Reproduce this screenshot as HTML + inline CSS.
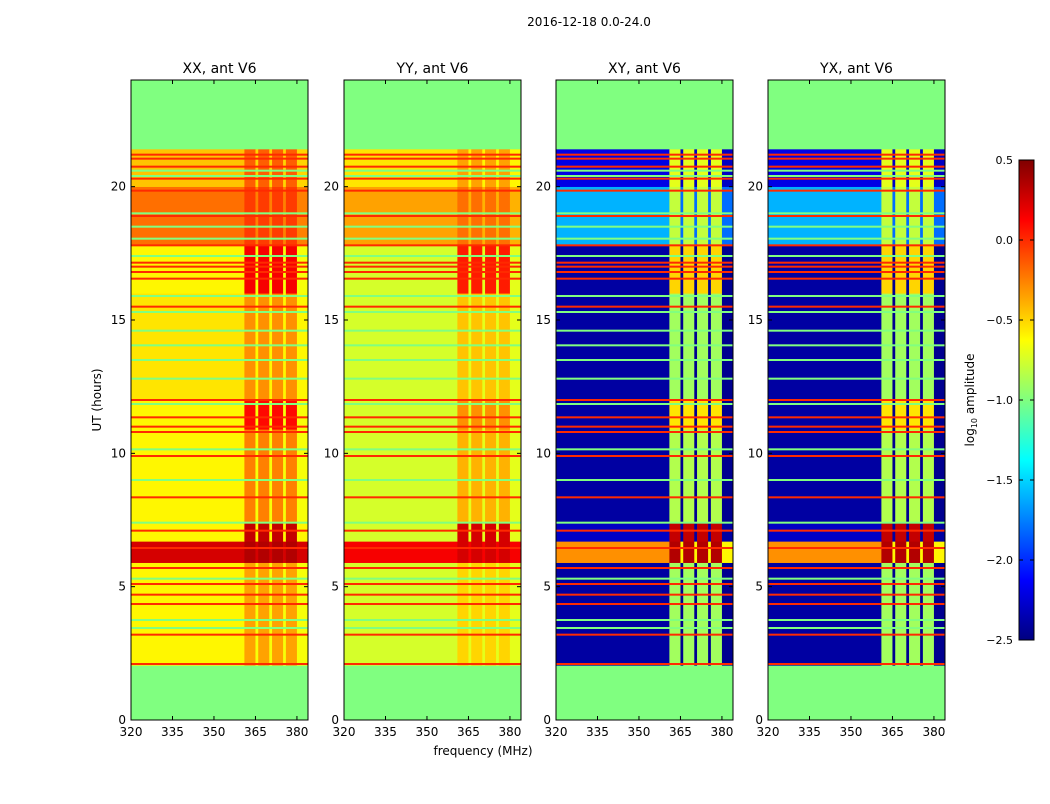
<!DOCTYPE html>
<html><head><meta charset="utf-8"><style>
body{margin:0;background:#fff;width:1050px;height:800px;overflow:hidden;font-family:"DejaVu Sans","Liberation Sans",sans-serif}
svg text{font-family:"DejaVu Sans","Liberation Sans",sans-serif}
</style></head><body>
<svg id="fig" width="1050" height="800" xmlns="http://www.w3.org/2000/svg">
<rect width="1050" height="800" fill="#fff"/>
<text x="589" y="26" font-size="12" text-anchor="middle">2016-12-18 0.0-24.0</text>
<text x="483" y="755" font-size="12" text-anchor="middle">frequency (MHz)</text>
<text x="0" y="0" font-size="12" text-anchor="middle" transform="translate(101,400) rotate(-90)">UT (hours)</text>
<text x="0" y="0" font-size="12" text-anchor="middle" transform="translate(974,400) rotate(-90)">log<tspan font-size="8" dy="3">10</tspan><tspan dy="-3"> amplitude</tspan></text>
</svg>
<script>
// ---- data ----
const panelTitles = ["XX, ant V6","YY, ant V6","XY, ant V6","YX, ant V6"];
const panelLefts = [131,344,556,768];
const xTicks = [320,335,350,365,380];
const yTicks = [0,5,10,15,20];
const cbTicks = [0.5,0.0,-0.5,-1.0,-1.5,-2.0,-2.5];
const cbTickLabels = ["0.5","0.0","\u22120.5","\u22121.0","\u22121.5","\u22122.0","\u22122.5"];
// frequency bands: [start MHz, end MHz, kind] L=left continuum, S=strip, G=gap
const bandStart = [320,361,365,366,370,371,375,376,380];
const bandEnd   = [361,365,366,370,371,375,376,380,384];
const bandKind  = ["L","S","G","S","G","S","G","S","G"];
// time blocks (hours)
const blockStart = [2.05,5.9,6.7,7.4,10.9,12.0,16.0,17.8,20.0];
const blockEnd   = [5.9,6.7,7.4,10.9,12.0,16.0,17.8,20.0,21.4];
// per-panel block values [L,S,G] (log10 amplitude)
const valsXX = [[-0.6,-0.35,-0.65],[0.25,0.35,0.25],[-0.6,0.3,-0.6],[-0.6,-0.25,-0.65],[-0.6,0.1,-0.65],[-0.55,-0.3,-0.6],[-0.6,0.15,-0.65],[-0.2,-0.05,-0.25],[-0.45,-0.15,-0.5]];
const valsYY = [[-0.75,-0.5,-0.7],[0.15,0.25,0.15],[-0.75,0.25,-0.7],[-0.75,-0.4,-0.7],[-0.75,-0.3,-0.7],[-0.75,-0.45,-0.7],[-0.75,0.05,-0.7],[-0.35,-0.2,-0.4],[-0.55,-0.35,-0.6]];
const valsXY = [[-2.4,-0.9,-2.45],[-0.3,0.35,-0.6],[-2.3,0.3,-2.4],[-2.4,-0.85,-2.45],[-2.4,-0.55,-2.45],[-2.4,-0.9,-2.45],[-2.4,-0.5,-2.45],[-1.6,-0.8,-1.8],[-2.2,-0.7,-2.3]];
const valsYX = [[-2.4,-0.9,-2.45],[-0.3,0.35,-0.6],[-2.3,0.3,-2.4],[-2.4,-0.85,-2.45],[-2.4,-0.55,-2.45],[-2.4,-0.9,-2.45],[-2.4,-0.5,-2.45],[-1.6,-0.8,-1.8],[-2.2,-0.7,-2.3]];
const panelVals = [valsXX,valsYY,valsXY,valsYX];
// flagged rows (full width)
const redLines = [2.1,3.2,4.35,4.7,5.1,5.7,6.45,7.1,8.35,9.9,10.8,11.0,11.35,12.0,15.5,16.55,16.8,17.0,17.15,17.8,18.9,19.85,20.3,20.75,21.05,21.2];
const greenLines = [3.45,3.75,5.3,7.4,9.0,10.15,11.85,12.8,13.5,14.05,14.6,15.3,15.9,17.4,18.05,18.5,19.0,20.4,20.6];
const maskValue = -1.0, flagValue = 0.0;
// ---- scales ----
const VMIN=-2.5, VMAX=0.5, PW=177, TOP=80, BOT=720;
const y = t => BOT - (t/24)*(BOT-TOP);
const xs = (left,f) => left + (f-320)/64*PW;
function jet(v){
  let t=(v-VMIN)/(VMAX-VMIN); t=Math.max(0,Math.min(1,t));
  const c=x=>Math.round(255*Math.max(0,Math.min(1,x)));
  return `rgb(${c(1.5-Math.abs(4*t-3))},${c(1.5-Math.abs(4*t-2))},${c(1.5-Math.abs(4*t-1))})`;
}
const NS="http://www.w3.org/2000/svg", svg=document.getElementById("fig");
function el(tag,attrs,parent){const e=document.createElementNS(NS,tag);for(const k in attrs)e.setAttribute(k,attrs[k]);(parent||svg).appendChild(e);return e;}
panelLefts.forEach((L,p)=>{
  const g=el("g",{});
  
  
  const bg=el("rect",{x:L,y:TOP,width:PW,height:BOT-TOP,fill:jet(maskValue)},g);
  
  
  const vals=panelVals[p];
  blockStart.forEach((t0,i)=>{
    bandStart.forEach((f0,j)=>{
      const k=bandKind[j]==="L"?0:bandKind[j]==="S"?1:2;
      const x0=xs(L,f0), x1=xs(L,bandEnd[j]);
      const r=el("rect",{x:x0,y:y(blockEnd[i]),width:x1-x0+0.3,height:y(t0)-y(blockEnd[i])+0.3,fill:jet(vals[i][k])},g);
      
      
    });
  });
  greenLines.forEach(t=>{const r=el("rect",{x:L,y:y(t)-1,width:PW,height:2,fill:jet(maskValue)},g);
    
    });
  redLines.forEach(t=>{const r=el("rect",{x:L,y:y(t)-1,width:PW,height:2,fill:jet(flagValue)},g);
    
    });
  const fr=el("rect",{x:L,y:TOP,width:PW,height:BOT-TOP,fill:"none",stroke:"#000","stroke-width":1},g);
  
  
  const tt=el("text",{x:L+PW/2,y:TOP-7,"font-size":14,"text-anchor":"middle"},g);tt.textContent=panelTitles[p];
  
  
  xTicks.forEach((f,i)=>{const X=xs(L,f);
    el("line",{x1:X,x2:X,y1:BOT,y2:BOT-4,stroke:"#000"},g);el("line",{x1:X,x2:X,y1:TOP,y2:TOP+4,stroke:"#000"},g);
    const tx=el("text",{x:X,y:BOT+16,"font-size":12,"text-anchor":"middle"},g);tx.textContent=f;
    
    });
  yTicks.forEach(t=>{const Y=y(t);
    el("line",{x1:L,x2:L+4,y1:Y,y2:Y,stroke:"#000"},g);el("line",{x1:L+PW,x2:L+PW-4,y1:Y,y2:Y,stroke:"#000"},g);
    const ty=el("text",{x:L-5,y:Y+4,"font-size":12,"text-anchor":"end"},g);ty.textContent=t;
    
    });
});
// colorbar
const CBX=1019,CBW=15,CBT=160,CBB=640;
const defs=el("defs",{});const lg=el("linearGradient",{id:"jet",x1:0,y1:1,x2:0,y2:0},defs);
for(let i=0;i<=40;i++){el("stop",{offset:i/40,"stop-color":jet(VMIN+(VMAX-VMIN)*i/40)},lg);}
const cb=el("rect",{x:CBX,y:CBT,width:CBW,height:CBB-CBT,fill:"url(#jet)",stroke:"#000"});


cbTicks.forEach((v,i)=>{const Y=CBB-(v-VMIN)/(VMAX-VMIN)*(CBB-CBT);
  el("line",{x1:CBX,x2:CBX+4,y1:Y,y2:Y,stroke:"#000"});el("line",{x1:CBX+CBW,x2:CBX+CBW-4,y1:Y,y2:Y,stroke:"#000"});
  const t=el("text",{x:1013,y:Y+4,"font-size":11,"text-anchor":"end"});t.textContent=cbTickLabels[i];
  
  });
</script>
</body></html>
